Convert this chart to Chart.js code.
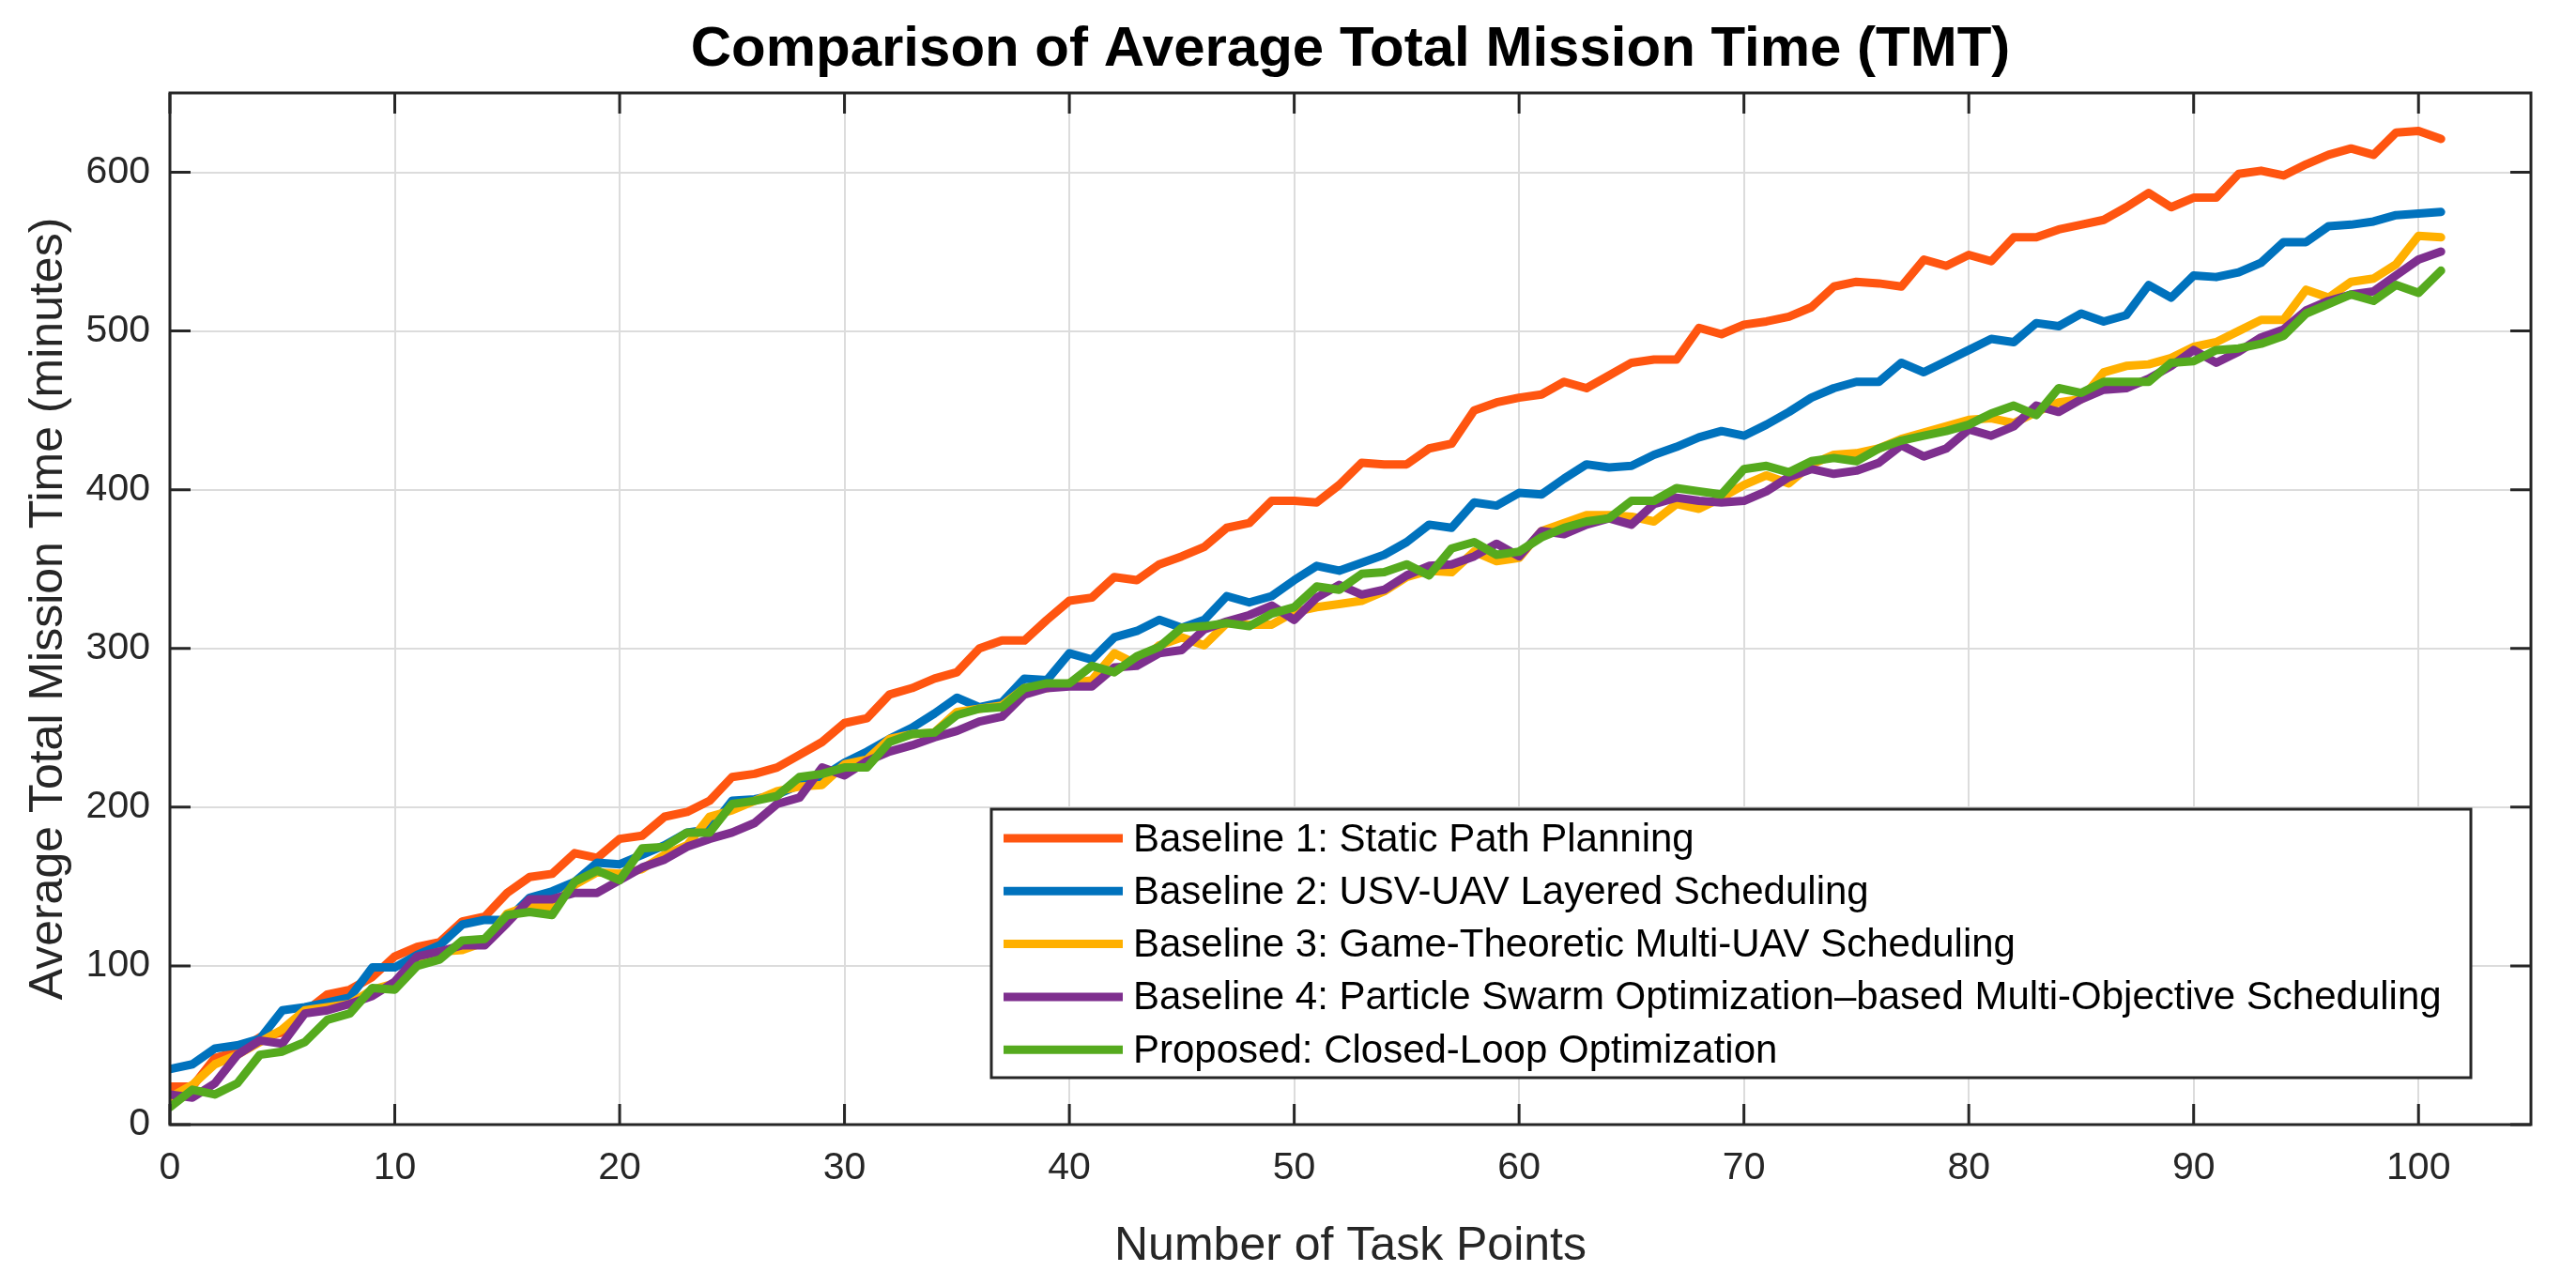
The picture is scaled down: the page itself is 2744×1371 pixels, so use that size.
<!DOCTYPE html>
<html>
<head>
<meta charset="utf-8">
<script src="https://cdn.jsdelivr.net/npm/chart.js@4.4.1/dist/chart.umd.min.js"></script>
<style>
  html, body { margin: 0; padding: 0; background: #fff; }
  canvas { display: block; }
</style>
</head>
<body>
<canvas id="myChart" width="2744" height="1371"></canvas>
<script>
var taskPoints = [
  0, 1, 2, 3, 4, 5, 6, 7, 8, 9, 10, 11, 12, 13, 14, 15, 16, 17, 18, 19, 20,
  21, 22, 23, 24, 25, 26, 27, 28, 29, 30, 31, 32, 33, 34, 35, 36, 37, 38, 39,
  40, 41, 42, 43, 44, 45, 46, 47, 48, 49, 50, 51, 52, 53, 54, 55, 56, 57, 58,
  59, 60, 61, 62, 63, 64, 65, 66, 67, 68, 69, 70, 71, 72, 73, 74, 75, 76, 77,
  78, 79, 80, 81, 82, 83, 84, 85, 86, 87, 88, 89, 90, 91, 92, 93, 94, 95, 96,
  97, 98, 99, 100, 101,
];

var baseline1 = [
  24, 24, 42, 46, 55, 58, 71, 82, 85, 93,
  106, 112, 115, 128, 131, 146, 156, 158, 171, 168,
  180, 182, 194, 197, 204, 219, 221, 225, 233, 241,
  253, 256, 271, 275, 281, 285, 300, 305, 305, 318,
  330, 332, 345, 343, 353, 358, 364, 376, 379, 393,
  393, 392, 403, 417, 416, 416, 426, 429, 450, 455,
  458, 460, 468, 464, 472, 480, 482, 482, 502, 498,
  504, 506, 509, 515, 528, 531, 530, 528, 545, 541,
  548, 544, 559, 559, 564, 567, 570, 578, 587, 578,
  584, 584, 599, 601, 598, 605, 611, 615, 611, 625,
  626, 621,
];

var baseline2 = [
  35, 38, 48, 50, 54, 72, 74, 77, 80, 99,
  99, 107, 113, 126, 129, 129, 143, 147, 153, 165,
  164, 170, 176, 184, 186, 204, 205, 208, 214, 219,
  228, 235, 243, 250, 259, 269, 263, 266, 281, 280,
  297, 293, 307, 311, 318, 313, 318, 333, 329, 333,
  343, 352, 349, 354, 359, 367, 378, 376, 392, 390,
  398, 397, 407, 416, 414, 415, 422, 427, 433, 437,
  434, 441, 449, 458, 464, 468, 468, 480, 474, 481,
  488, 495, 493, 505, 503, 511, 506, 510, 529, 521,
  535, 534, 537, 543, 556, 556, 566, 567, 569, 573,
  574, 575,
];

var baseline3 = [
  17, 25, 38, 44, 52, 60, 72, 74, 76, 85,
  89, 105, 109, 110, 115, 133, 138, 137, 151, 159,
  158, 161, 170, 176, 194, 198, 204, 210, 213, 214,
  227, 230, 243, 246, 247, 260, 262, 264, 275, 275,
  278, 280, 297, 290, 302, 307, 302, 316, 315, 315,
  323, 326, 328, 330, 336, 345, 349, 348, 361, 355,
  357, 374, 379, 384, 384, 383, 380, 391, 388, 395,
  403, 409, 404, 416, 422, 423, 426, 432, 436, 440,
  444, 445, 442, 449, 455, 457, 474, 478, 479, 483,
  490, 493, 500, 507, 507, 526, 521, 531, 533, 542,
  560, 559,
];

var baseline4 = [
  19, 17, 26, 44, 53, 51, 70, 72, 76, 81,
  90, 106, 109, 113, 113, 127, 142, 142, 146, 146,
  154, 162, 167, 175, 180, 184, 190, 202, 206, 225,
  220, 229, 235, 239, 244, 248, 254, 257, 271, 275,
  276, 276, 288, 289, 297, 299, 312, 317, 321, 327,
  318, 332, 340, 334, 337, 346, 352, 353, 358, 366,
  358, 374, 372, 378, 382, 378, 391, 395, 393, 392,
  393, 399, 408, 413, 410, 412, 417, 428, 421, 426,
  438, 434, 440, 453, 449, 457, 463, 464, 470, 478,
  488, 480, 487, 496, 501, 513, 519, 523, 525, 535,
  545, 550,
];

var proposed = [
  11, 22, 19, 26, 44, 46, 52, 66, 70, 86,
  85, 100, 104, 116, 117, 132, 134, 132, 153, 160,
  154, 174, 175, 184, 184, 202, 204, 207, 219, 221,
  225, 225, 241, 246, 247, 258, 262, 263, 275, 278,
  278, 289, 285, 295, 301, 313, 314, 316, 314, 322,
  326, 339, 337, 347, 348, 353, 346, 363, 367, 359,
  361, 370, 376, 380, 382, 393, 393, 401, 399, 397,
  413, 415, 411, 418, 420, 418, 426, 431, 434, 437,
  441, 448, 453, 447, 464, 461, 468, 468, 468, 480,
  481, 488, 489, 492, 497, 511, 517, 523, 519, 529,
  524, 538,
];

var seriesNames = [
  "Baseline 1: Static Path Planning",
  "Baseline 2: USV-UAV Layered Scheduling",
  "Baseline 3: Game-Theoretic Multi-UAV Scheduling",
  "Baseline 4: Particle Swarm Optimization\u2013based Multi-Objective Scheduling",
  "Proposed: Closed-Loop Optimization",
];
var seriesColors = ["#FF5510", "#0072BD", "#FFB000", "#7E2F8E", "#55AA1E"];
var seriesValues = [baseline1, baseline2, baseline3, baseline4, proposed];

var FONT = "'Liberation Sans', Arial, Helvetica, sans-serif";
var AXIS = "#262626";

function toPoints(values) {
  return values.map(function (v, i) {
    return { x: taskPoints[i], y: v };
  });
}

// inward tick marks and box, like the matlab axes
var frameTicks = {
  id: "frameTicks",
  afterDraw: function (chart) {
    var ctx = chart.ctx;
    var a = chart.chartArea;
    var x = chart.scales.x;
    var y = chart.scales.y;
    var len = 22;
    ctx.save();
    ctx.strokeStyle = AXIS;
    ctx.lineWidth = 3;
    ctx.beginPath();
    x.ticks.forEach(function (t) {
      var px = x.getPixelForValue(t.value);
      ctx.moveTo(px, a.bottom);
      ctx.lineTo(px, a.bottom - len);
      ctx.moveTo(px, a.top);
      ctx.lineTo(px, a.top + len);
    });
    y.ticks.forEach(function (t) {
      var py = y.getPixelForValue(t.value);
      ctx.moveTo(a.left, py);
      ctx.lineTo(a.left + len, py);
      ctx.moveTo(a.right, py);
      ctx.lineTo(a.right - len, py);
    });
    ctx.stroke();
    ctx.strokeRect(a.left, a.top, a.right - a.left, a.bottom - a.top);
    ctx.restore();
  },
};

// legend box inside the axes, lower right
var legendBox = {
  id: "legendBox",
  afterDatasetsDraw: function (chart) {
    var ctx = chart.ctx;
    var left = 1056, top = 862, w = 1576, h = 286;
    ctx.save();
    ctx.fillStyle = "#ffffff";
    ctx.fillRect(left, top, w, h);
    ctx.strokeStyle = "#262626";
    ctx.lineWidth = 3;
    ctx.strokeRect(left, top, w, h);
    ctx.font = "42px " + FONT;
    ctx.textBaseline = "middle";
    chart.data.datasets.forEach(function (ds, i) {
      var cy = top + 31 + i * 56.3;
      ctx.strokeStyle = ds.borderColor;
      ctx.lineWidth = 9;
      ctx.beginPath();
      ctx.moveTo(left + 13, cy);
      ctx.lineTo(left + 140, cy);
      ctx.stroke();
      ctx.fillStyle = "#000000";
      ctx.fillText(ds.label, left + 151, cy + 2);
    });
    ctx.restore();
  },
};

var ctx = document.getElementById("myChart").getContext("2d");

var myChart = new Chart(ctx, {
  type: "line",
  data: {
    datasets: seriesValues.map(function (vals, i) {
      return {
        label: seriesNames[i],
        data: toPoints(vals),
        borderColor: seriesColors[i],
        backgroundColor: seriesColors[i],
        borderWidth: 9,
        pointRadius: 0,
        tension: 0,
        borderJoinStyle: "round",
        borderCapStyle: "round",
        order: 4 - i,
      };
    }),
  },
  options: {
    responsive: false,
    animation: false,
    devicePixelRatio: 1,
    layout: {
      padding: { left: 0, right: 48, top: 0, bottom: 0 },
    },
    scales: {
      x: {
        type: "linear",
        min: 0,
        max: 105,
        afterFit: function (scale) {
          scale.height = 173;
        },
        ticks: {
          stepSize: 10,
          includeBounds: false,
          autoSkip: false,
          maxRotation: 0,
          padding: 22,
          color: AXIS,
          font: { family: FONT, size: 41 },
        },
        grid: {
          color: "#dcdcdc",
          lineWidth: 2,
          drawTicks: false,
        },
        border: { display: false },
        title: {
          display: true,
          text: "Number of Task Points",
          color: AXIS,
          padding: { top: 0, bottom: 13 },
          font: { family: FONT, size: 50 },
        },
      },
      y: {
        min: 0,
        max: 650,
        afterFit: function (scale) {
          scale.width = 181;
        },
        ticks: {
          stepSize: 100,
          includeBounds: false,
          padding: 21,
          color: AXIS,
          font: { family: FONT, size: 41 },
        },
        grid: {
          color: "#dcdcdc",
          lineWidth: 2,
          drawTicks: false,
        },
        border: { display: false },
        title: {
          display: true,
          text: "Average Total Mission Time (minutes)",
          color: AXIS,
          padding: { top: 22, bottom: 0 },
          font: { family: FONT, size: 50 },
        },
      },
    },
    plugins: {
      legend: {
        display: false,
      },
      tooltip: {
        enabled: false,
      },
      title: {
        display: true,
        fullSize: false,
        text: "Comparison of Average Total Mission Time (TMT)",
        color: "#000000",
        padding: { top: 17, bottom: 10 },
        font: { family: FONT, size: 60, weight: "bold" },
      },
    },
  },
  plugins: [legendBox, frameTicks],
});
</script>
</body>
</html>
